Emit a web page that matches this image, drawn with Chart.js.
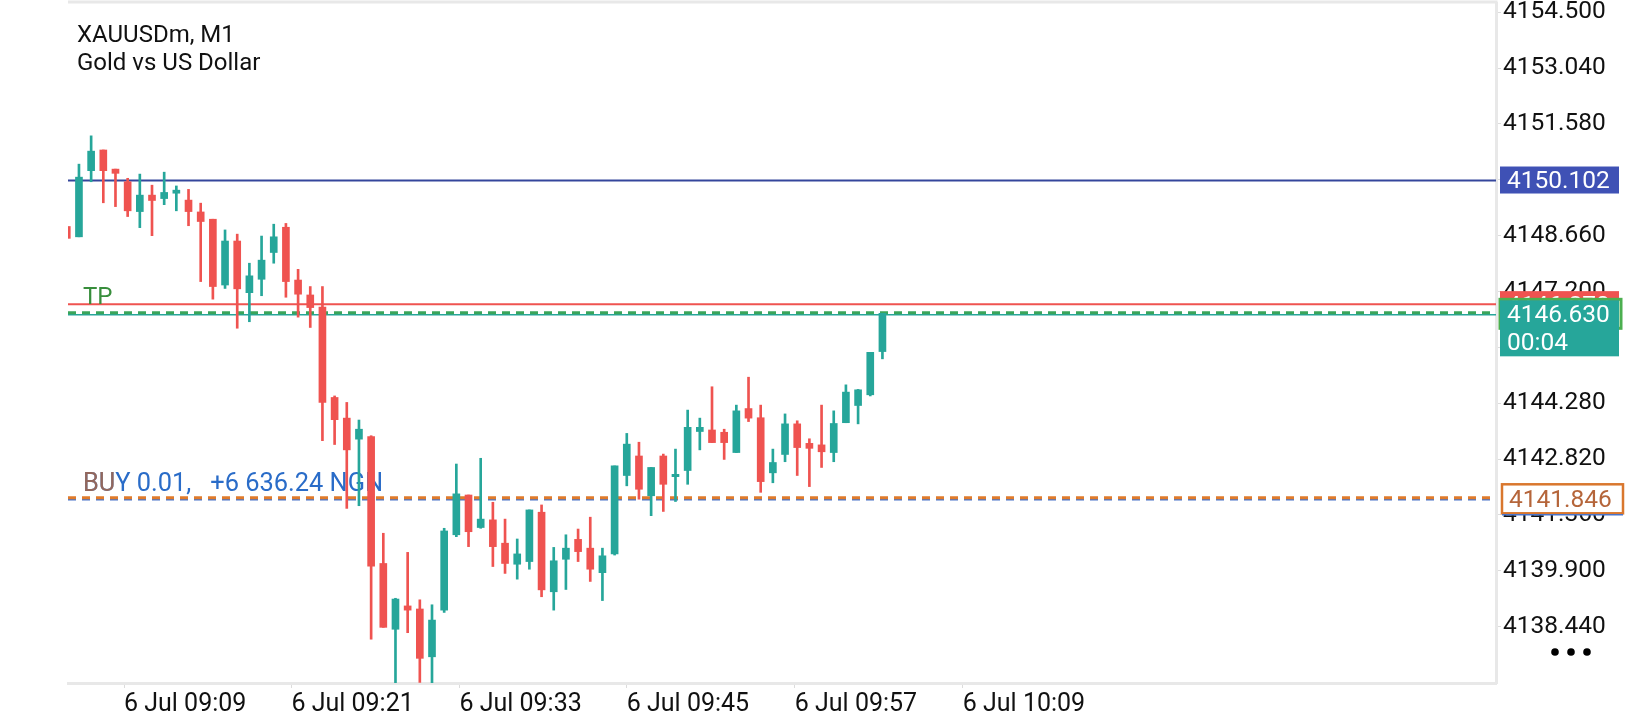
<!DOCTYPE html>
<html>
<head>
<meta charset="utf-8">
<script src="https://cdn.jsdelivr.net/npm/chart.js@4.4.1/dist/chart.umd.min.js"></script>
<style>
  html, body { margin: 0; padding: 0; background: #fff; }
  canvas { display: block; }
</style>
</head>
<body>
<canvas id="myChart" width="1640" height="720"></canvas>
<script>
// M1 bars, index -1 is the bar cut off at the left edge
var firstIndex = -1;
var opens  = [4148.90, 4148.63, 4150.36, 4150.90, 4150.40, 4150.07, 4149.29, 4149.72, 4149.63, 4149.77,
              4149.59, 4149.28, 4149.09, 4147.37, 4148.52, 4147.17, 4147.52, 4148.22, 4148.88, 4147.50,
              4147.11, 4146.79, 4144.43, 4143.89, 4143.34, 4143.41, 4140.09, 4138.37, 4138.98, 4138.90,
              4137.65, 4138.87, 4140.84, 4141.88, 4141.03, 4141.23, 4140.62, 4140.07, 4140.14, 4141.43,
              4139.35, 4140.20, 4140.72, 4140.49, 4139.85, 4140.34, 4142.39, 4142.90, 4141.86, 4142.90,
              4142.36, 4142.52, 4143.54, 4143.58, 4143.52, 4142.99, 4144.14, 4143.90, 4142.46, 4142.94,
              4143.74, 4143.23, 4143.19, 4142.99, 4143.77, 4144.22, 4144.50, 4145.63];
var highs  = [4148.90, 4150.53, 4151.27, 4150.90, 4150.40, 4150.16, 4150.27, 4149.98, 4150.32, 4149.96,
              4149.87, 4149.51, 4149.09, 4148.81, 4148.70, 4147.94, 4148.65, 4148.96, 4148.98, 4147.78,
              4147.33, 4147.33, 4144.47, 4144.30, 4143.84, 4143.43, 4140.88, 4139.18, 4140.38, 4139.14,
              4139.01, 4141.01, 4142.69, 4141.88, 4142.84, 4141.69, 4141.25, 4140.73, 4141.49, 4141.62,
              4140.51, 4140.84, 4140.99, 4141.30, 4140.49, 4142.64, 4143.49, 4143.26, 4142.60, 4142.95,
              4143.08, 4144.10, 4143.89, 4144.71, 4143.60, 4144.23, 4144.96, 4144.23, 4143.08, 4144.00,
              4143.82, 4143.35, 4144.23, 4144.08, 4144.76, 4144.64, 4145.61, 4146.63];
var lows   = [4148.59, 4148.63, 4150.07, 4149.52, 4149.42, 4149.16, 4148.87, 4148.66, 4149.47, 4149.31,
              4148.92, 4147.46, 4147.00, 4147.28, 4146.24, 4146.41, 4147.09, 4147.94, 4147.05, 4146.53,
              4146.26, 4143.30, 4143.20, 4141.53, 4141.60, 4138.11, 4138.42, 4136.90, 4138.28, 4136.98,
              4136.90, 4138.81, 4140.79, 4140.53, 4141.01, 4140.01, 4139.83, 4139.68, 4139.94, 4139.22,
              4138.87, 4139.41, 4140.14, 4139.62, 4139.12, 4140.31, 4142.12, 4141.77, 4141.34, 4141.45,
              4141.71, 4142.16, 4143.06, 4143.25, 4142.81, 4142.99, 4143.80, 4141.95, 4142.20, 4142.75,
              4142.39, 4142.10, 4142.60, 4142.75, 4143.77, 4143.74, 4144.47, 4145.44];
var closes = [4148.59, 4150.19, 4150.87, 4150.36, 4150.29, 4149.31, 4149.72, 4149.58, 4149.79, 4149.85,
              4149.29, 4149.03, 4147.33, 4148.52, 4147.27, 4147.61, 4148.02, 4148.63, 4147.46, 4147.13,
              4146.78, 4144.30, 4143.85, 4143.06, 4143.60, 4140.02, 4138.42, 4139.16, 4138.87, 4137.61,
              4138.61, 4140.94, 4141.91, 4140.92, 4141.25, 4140.53, 4140.09, 4140.34, 4141.49, 4139.40,
              4140.16, 4140.49, 4140.40, 4139.94, 4140.29, 4142.64, 4143.21, 4142.03, 4142.60, 4142.16,
              4142.42, 4143.65, 4143.65, 4143.25, 4143.25, 4144.08, 4143.89, 4142.23, 4142.73, 4143.74,
              4143.12, 4143.10, 4143.01, 4143.75, 4144.57, 4144.63, 4145.61, 4146.63];

// price axis
var priceTicks = [4154.5, 4153.04, 4151.58, 4150.12, 4148.66, 4147.2, 4145.74, 4144.28, 4142.82, 4141.36, 4139.9, 4138.44];
var priceMin = 4136.965, priceMax = 4154.743;

// time axis
var timeLabels = ['6 Jul 09:09', '6 Jul 09:21', '6 Jul 09:33', '6 Jul 09:45', '6 Jul 09:57', '6 Jul 10:09'];
var timeTickAt = [3.7, 17.45, 31.25, 45.0, 58.8, 72.6];

// levels
var markLine = 4150.102;
var tpLine = 4146.870;
var lastPrice = 4146.630;
var openPrice = 4141.846;
var barTimer = '00:04';
var positionText = 'BUY 0.01,   +6 636.24 NGN';

var upColor = '#26a69a';
var downColor = '#ef5350';

Chart.defaults.font.family = 'Roboto';

var bodies = [], wicks = [], colors = [];
for (var i = 0; i < opens.length; i++) {
    var x = firstIndex + i;
    bodies.push({ x: x, y: [opens[i], closes[i]] });
    wicks.push({ x: x, y: [lows[i], highs[i]] });
    colors.push(closes[i] >= opens[i] ? upColor : downColor);
}

var overlay = {
    id: 'overlay',
    beforeDatasetsDraw: function (chart) {
        var c = chart.ctx, a = chart.chartArea, ys = chart.scales.y;
        c.save();
        c.beginPath();
        c.rect(a.left, a.top, a.right - a.left, a.bottom - a.top);
        c.clip();

        function hline(v, color, w, dash, dy) {
            var py = ys.getPixelForValue(v) + (dy || 0);
            c.beginPath();
            c.setLineDash(dash || []);
            c.strokeStyle = color;
            c.lineWidth = w;
            c.moveTo(a.left, py);
            c.lineTo(a.right, py);
            c.stroke();
        }
        hline(markLine, '#34469c', 2);
        hline(tpLine, '#ef5350', 2);
        hline(lastPrice, '#26a69a', 1.5, [], 1.5);
        hline(lastPrice, '#3aa55a', 3, [8, 6], -0.5);
        hline(openPrice, '#4a74c9', 1.5, [8, 6], 3.5);
        hline(openPrice, '#e07b2b', 3, [8, 6], 1.5);
        c.setLineDash([]);

        c.textBaseline = 'alphabetic';
        c.font = '24px Roboto';
        c.fillStyle = '#388e3c';
        c.fillText('TP', a.left + 15, ys.getPixelForValue(tpLine) - 0.5);
        var by = ys.getPixelForValue(openPrice) - 5;
        c.font = '25.4px Roboto';
        c.fillStyle = '#2a6cc8';
        c.fillText(positionText, a.left + 15, by);
        c.globalAlpha = 0.7;
        c.fillStyle = '#c0652e';
        c.fillText('BU', a.left + 15, by);
        c.restore();
    },
    afterDraw: function (chart) {
        var c = chart.ctx, a = chart.chartArea, ys = chart.scales.y;
        c.save();

        // top frame line
        c.strokeStyle = '#e8e8e8';
        c.lineWidth = 3;
        c.beginPath();
        c.moveTo(a.left, a.top - 1);
        c.lineTo(a.right + 1.5, a.top - 1);
        c.stroke();

        // title
        c.fillStyle = '#111';
        c.font = '24px Roboto';
        c.textBaseline = 'alphabetic';
        c.fillText('XAUUSDm, M1', 77, 42);
        c.fillText('Gold vs US Dollar', 77, 70);

        var bx = a.right + 4, bw = 119;
        c.font = '24.5px Roboto';

        // mark line tag
        var py = ys.getPixelForValue(markLine);
        c.fillStyle = '#3f51b5';
        c.fillRect(bx, py - 14, bw, 27);
        c.fillStyle = '#fff';
        c.fillText(markLine.toFixed(3), bx + 7, py + 7.5);

        // take profit tag
        py = ys.getPixelForValue(tpLine);
        c.fillStyle = '#ef5350';
        c.fillRect(bx, py - 13, bw, 27);
        c.fillStyle = '#fff';
        c.fillText(tpLine.toFixed(3), bx + 7, py + 9);

        // last price tag with timer
        py = ys.getPixelForValue(lastPrice);
        c.strokeStyle = '#4caf50';
        c.lineWidth = 3;
        c.strokeRect(bx, py - 14, bw + 2, 29);
        c.fillStyle = '#26a69a';
        c.fillRect(bx, py - 13, bw, 56);
        c.fillStyle = '#fff';
        c.fillText(lastPrice.toFixed(3), bx + 7, py + 9);
        c.fillText(barTimer, bx + 7, py + 37);

        // open price tag
        py = ys.getPixelForValue(openPrice);
        c.fillStyle = '#fff';
        c.fillRect(bx + 2, py - 12, bw + 2, 29);
        c.strokeStyle = '#d9772e';
        c.lineWidth = 2.5;
        c.strokeRect(bx + 2, py - 12, bw + 2, 29);
        c.strokeStyle = '#4a74c9';
        c.lineWidth = 1.5;
        c.beginPath();
        c.moveTo(bx + 2, py + 18.5);
        c.lineTo(bx + bw + 4, py + 18.5);
        c.stroke();
        c.fillStyle = '#b5653a';
        c.fillText(openPrice.toFixed(3), bx + 9, py + 11);

        // menu dots
        c.fillStyle = '#000';
        [1555, 1571, 1587].forEach(function (dx) {
            c.beginPath();
            c.arc(dx, 652, 3.8, 0, Math.PI * 2);
            c.fill();
        });
        c.restore();
    }
};

var element = document.getElementById('myChart').getContext('2d');
var chart = new Chart(element, {
    type: 'bar',
    data: {
        datasets: [
            { data: bodies, backgroundColor: colors, barThickness: 7, grouped: false, minBarLength: 1.5, clip: 0 },
            { data: wicks, backgroundColor: colors, barThickness: 2, grouped: false, clip: 0 }
        ]
    },
    options: {
        responsive: false,
        animation: false,
        devicePixelRatio: 1,
        layout: { padding: { left: 68, top: 3 } },
        plugins: { legend: { display: false }, tooltip: { enabled: false } },
        scales: {
            x: {
                type: 'linear',
                min: -0.9,
                max: 116.4,
                offset: false,
                afterFit: function (s) { s.height = 37; s.paddingLeft = 0; s.paddingRight = 0; },
                afterBuildTicks: function (s) { s.ticks = timeTickAt.map(function (v) { return { value: v }; }); },
                ticks: {
                    autoSkip: false, maxRotation: 0, align: 'start', padding: 2,
                    color: '#111', font: { size: 25 },
                    callback: function (v, i) { return timeLabels[i]; }
                },
                grid: { drawOnChartArea: false, offset: false, tickLength: 5, color: '#dcdcdc' },
                border: { color: '#e8e8e8', width: 3 }
            },
            y: {
                position: 'right',
                min: priceMin,
                max: priceMax,
                beginAtZero: false,
                // keep the plot top flush: the top label may overhang the canvas
                afterFit: function (s) { s.width = 144; s.paddingTop = 0; s.paddingBottom = 0; },
                afterBuildTicks: function (s) { s.ticks = priceTicks.map(function (v) { return { value: v }; }); },
                ticks: {
                    autoSkip: false, padding: 2,
                    color: '#111', font: { size: 24.5 },
                    callback: function (v) { return v.toFixed(3); }
                },
                grid: { drawOnChartArea: false, tickLength: 5, color: '#dcdcdc' },
                border: { color: '#e8e8e8', width: 3 }
            }
        }
    },
    plugins: [overlay]
});
</script>
</body>
</html>
